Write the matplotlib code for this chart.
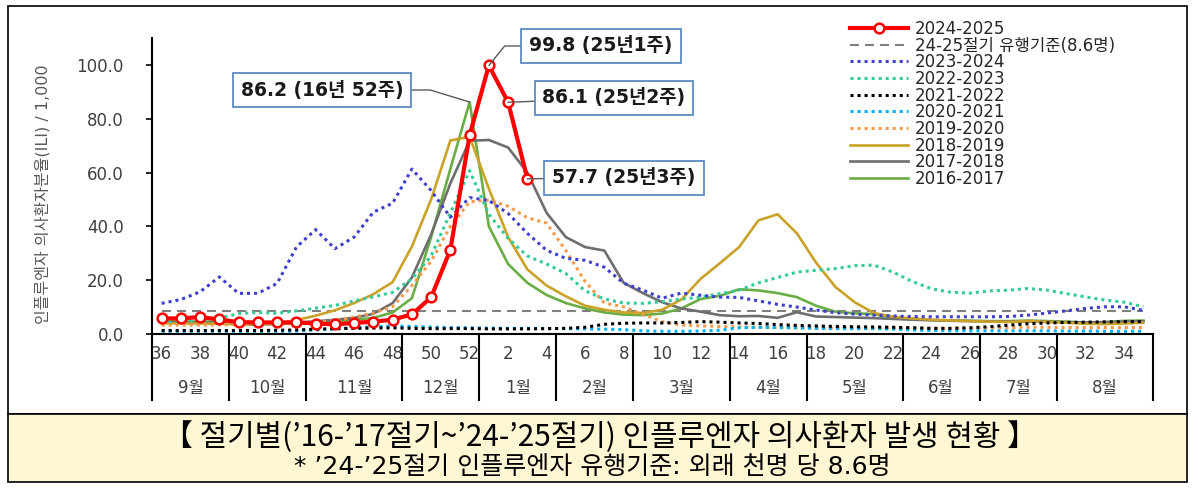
import matplotlib
matplotlib.use("Agg")
import matplotlib.pyplot as plt
import matplotlib.transforms as mtransforms
from matplotlib.patches import Rectangle
import numpy as np

plt.rcParams['font.family'] = ['DejaVu Sans', 'Noto Sans CJK KR']

W, H = 1198, 494

# x axis: epi-weeks 36..52 then 1..35
weeks = list(range(36, 53)) + list(range(1, 36))
months = ["9월", "10월", "11월", "12월", "1월", "2월", "3월", "4월", "5월", "6월", "7월", "8월"]
month_nweeks = [4, 4, 5, 4, 4, 4, 5, 4, 5, 4, 4, 5]

threshold = 8.6

s2425 = [5.8, 5.8, 6.3, 5.4, 4.4, 4.3, 4.3, 4.3, 3.9, 3.6, 4.1, 4.6, 5.3, 7.3, 13.6, 31.3, 73.9,
         99.8, 86.1, 57.7]

s2324 = [11.4, 12.8, 15.7, 21.2, 15.1, 15.1, 18.8, 32.3, 38.8, 31.7, 36.0, 45.3, 48.6, 61.3, 53.3, 43.4, 50.7,
         49.6, 44.8, 37.4, 31.1, 28.1, 27.4, 24.8, 18.9, 16.3, 13.3, 15.2, 14.4, 13.7, 13.6, 12.3, 11.0,
         10.0, 8.9, 7.9, 7.4, 7.0, 6.7, 6.5, 6.4, 6.4, 6.4, 6.4, 6.5, 7.0, 7.8, 8.6, 9.5, 10.1, 10.1, 8.8]

s2223 = [4.5, 4.6, 4.9, 5.8, 7.6, 8.0, 7.7, 8.6, 9.6, 10.6, 12.3, 13.8, 15.5, 20.5, 29.0, 45.0, 60.7,
         44.5, 35.5, 29.0, 26.0, 22.5, 16.0, 13.0, 11.5, 11.4, 12.0, 13.0, 13.7, 15.0, 16.3, 19.0, 21.0,
         23.0, 23.7, 24.3, 25.4, 25.6, 23.0, 19.5, 16.8, 15.5, 15.2, 16.0, 16.3, 16.9, 16.3, 15.0, 13.8,
         12.6, 11.8, 10.1]

s2122 = [1.3, 1.3, 1.3, 1.3, 1.3, 1.3, 1.4, 1.5, 1.8, 2.0, 2.1, 2.2, 2.3, 2.1, 2.0, 2.0, 2.0,
         1.9, 1.9, 1.9, 2.0, 2.1, 2.5, 3.6, 4.0, 4.1, 4.1, 4.3, 4.6, 4.4, 4.1, 3.9, 3.5,
         3.2, 3.0, 2.8, 2.7, 2.6, 2.5, 2.3, 2.1, 2.1, 2.3, 2.7, 3.3, 3.8, 4.1, 4.3, 4.4, 4.5, 4.6, 4.6]

s2021 = [1.0, 1.0, 1.0, 1.0, 1.0, 1.0, 1.0, 1.1, 1.5, 1.9, 2.3, 2.7, 3.0, 2.8, 2.6, 2.4, 2.3,
         2.2, 2.1, 2.1, 2.0, 2.0, 1.9, 1.8, 1.6, 1.2, 1.0, 1.0, 1.1, 1.4, 2.3, 2.5, 2.4,
         2.3, 2.1, 2.0, 2.0, 2.0, 1.8, 1.5, 1.3, 1.2, 1.2, 1.2, 1.2, 1.2, 1.2, 1.1, 1.1, 1.0, 1.0, 1.0]

s1920 = [3.3, 3.3, 3.3, 3.4, 3.5, 3.6, 3.7, 3.9, 4.3, 5.0, 6.3, 7.8, 10.2, 18.0, 27.0, 40.0, 49.1,
         49.8, 47.5, 43.2, 41.2, 31.0, 19.5, 11.5, 10.1, 7.3, 4.6, 3.3, 3.0, 2.8, 2.6, 2.5, 2.4,
         2.3, 2.2, 2.2, 2.2, 2.2, 2.2, 2.2, 2.1, 2.1, 2.2, 2.3, 2.4, 2.5, 2.5, 2.4, 2.4, 2.4, 2.4, 2.4]

s1819 = [4.0, 3.9, 3.9, 3.8, 3.6, 3.7, 4.0, 5.2, 6.8, 8.8, 11.5, 14.8, 19.3, 32.5, 50.0, 71.9, 73.3,
         54.0, 36.0, 24.0, 18.0, 14.0, 10.5, 9.0, 8.0, 7.8, 9.0, 12.8, 20.5, 26.3, 32.3, 42.2, 44.5,
         37.4, 26.5, 17.5, 11.8, 7.8, 6.4, 5.8, 5.3, 5.0, 4.8, 4.6, 4.5, 4.8, 4.5, 4.2, 3.8, 3.7, 3.9, 4.2]

s1718 = [4.3, 4.3, 4.2, 4.2, 3.9, 3.9, 4.0, 4.3, 4.7, 5.3, 6.0, 7.5, 11.5, 21.0, 37.0, 56.0, 71.8,
         72.1, 69.3, 60.0, 45.0, 36.0, 32.3, 31.0, 19.0, 15.2, 11.8, 9.5, 8.3, 7.0, 6.6, 6.7, 6.0,
         8.1, 6.5, 6.3, 6.1, 5.9, 5.6, 5.3, 5.1, 4.9, 4.8, 4.7, 4.6, 4.6, 4.5, 4.4, 4.3, 4.4, 4.6, 4.7]

s1617 = [4.8, 4.7, 4.6, 4.6, 3.4, 3.5, 3.7, 4.0, 4.3, 4.7, 5.2, 6.0, 8.0, 13.3, 36.0, 61.4, 86.2,
         40.0, 26.0, 19.0, 14.5, 11.5, 9.5, 8.0, 7.2, 7.0, 7.6, 9.5, 13.0, 14.2, 16.6, 16.2, 15.2,
         13.7, 10.5, 8.3, 7.7, 7.4, 6.0, 5.5, 5.2, 5.0, 4.9, 4.8, 4.8, 5.0, 4.8, 4.6, 4.2, 4.4, 4.9, 5.0]

x = np.arange(len(weeks))

fig = plt.figure(figsize=(W / 100, H / 100), dpi=100)
fig.patch.set_facecolor("white")

# frames
fig.add_artist(Rectangle((8 / W, 1 - 414 / H), 1179 / W, 408 / H, transform=fig.transFigure,
                         fill=False, ec="black", lw=1.2, zorder=0))
fig.add_artist(Rectangle((8 / W, 1 - 482 / H), 1179 / W, 68 / H, transform=fig.transFigure,
                         fc="#FFF6D3", ec="black", lw=1.2, zorder=0))

ax = fig.add_axes([152 / W, (H - 334) / H, (1153 - 152) / W, (334 - 38) / H])
ax.set_facecolor("none")

dot = (0, (1, 1.3))
dash = (0, (4.3, 2.9))
ax.plot(x, [threshold] * len(x), color="#7F7F7F", lw=1.5, ls=dash, zorder=2)
l1617, = ax.plot(x, s1617, color="#6AAD45", lw=1.9, zorder=3)
l1718, = ax.plot(x, s1718, color="#6E6E6E", lw=1.9, zorder=3)
l1819, = ax.plot(x, s1819, color="#C9A227", lw=1.9, zorder=3)
l1920, = ax.plot(x, s1920, color="#F59A4A", lw=2.2, ls=dot, zorder=3)
l2021, = ax.plot(x, s2021, color="#00B0F0", lw=2.2, ls=dot, zorder=3)
l2122, = ax.plot(x, s2122, color="#000000", lw=2.2, ls=dot, zorder=3)
l2223, = ax.plot(x, s2223, color="#33CC99", lw=2.2, ls=dot, zorder=3)
l2324, = ax.plot(x, s2324, color="#3F3FD0", lw=2.2, ls=dot, zorder=3)
l2425, = ax.plot(x[:len(s2425)], s2425, color="#FF0000", lw=3, marker="o", ms=7,
                 mfc="white", mec="#FF0000", mew=1.8, zorder=5)
lthr, = ax.plot([], [], color="#7F7F7F", lw=1.5, ls=dash)

ax.set_xlim(-0.5, len(x) - 0.5)
ax.set_ylim(0, 110)
ax.set_yticks(np.arange(0, 101, 20))
ax.set_yticklabels([f"{v:.1f}" for v in np.arange(0, 101, 20)])
ax.tick_params(axis="y", length=6 * 0.72, width=1.2, pad=16, labelsize=12, labelcolor="#404040")
ax.set_xticks(x[::2])
ax.set_xticklabels([str(w) for w in weeks[::2]])
ax.tick_params(axis="x", length=0, pad=8, labelsize=12, labelcolor="#404040")
for s in ["top", "right"]:
    ax.spines[s].set_visible(False)
ax.spines["left"].set_linewidth(1.5)
ax.spines["bottom"].set_linewidth(1.5)

# month level of the category axis
trans = mtransforms.blended_transform_factory(ax.transData, ax.transAxes)
bounds = np.concatenate([[0], np.cumsum(month_nweeks)]) - 0.5
low = -66 / 296
for b in bounds:
    ax.plot([b, b], [0, low], transform=trans, color="black", lw=1.5, clip_on=False)
for m, a, b in zip(months, bounds[:-1], bounds[1:]):
    ax.text((a + b) / 2, -54 / 296, m, transform=trans, ha="center", va="center",
            fontsize=12, color="#404040")

fig.text(43 / W, 1 - 194 / H, "인플루엔자 의사환자분율(ILI) / 1,000", rotation=90,
         ha="center", va="center", fontsize=11.5, color="#595959")

# callouts
box = dict(boxstyle="square,pad=0.42", fc="white", ec="#4F81BD", lw=1.2)
lead = dict(arrowstyle="-", color="#595959", lw=1, shrinkA=0, shrinkB=0)
i1 = weeks.index(1)
callouts = [
    ("99.8 (25년1주)", i1, s2425[i1], (601, 46), "angle,angleA=0,angleB=51,rad=0"),
    ("86.1 (25년2주)", i1 + 1, s2425[i1 + 1], (614, 98), "arc3"),
    ("57.7 (25년3주)", i1 + 2, s2425[i1 + 2], (624, 178), "arc3"),
    ("86.2 (16년 52주)", i1 - 1, s1617[i1 - 1], (322, 90), "angle,angleA=0,angleB=-17,rad=0"),
]
for txt, xi, yv, (px, py), cs in callouts:
    ax.annotate(txt, xy=(xi, yv), xycoords="data", xytext=(px / W, 1 - py / H),
                textcoords="figure fraction", ha="center", va="center", fontsize=13.5,
                fontweight="bold", color="#1a1a1a", bbox=box,
                arrowprops=dict(lead, connectionstyle=cs), zorder=6)

handles = [l2425, lthr, l2324, l2223, l2122, l2021, l1920, l1819, l1718, l1617]
labels = ["2024-2025", "24-25절기 유행기준(8.6명)", "2023-2024", "2022-2023", "2021-2022",
          "2020-2021", "2019-2020", "2018-2019", "2017-2018", "2016-2017"]
leg = ax.legend(handles, labels, loc="upper left", bbox_to_anchor=(850 / W, 1 - 20 / H),
                bbox_transform=fig.transFigure, frameon=False, fontsize=12, handlelength=3.5,
                handletextpad=0.4, labelspacing=-0.08, borderpad=0, borderaxespad=0, numpoints=1)
for t in leg.get_texts():
    t.set_color("#262626")

cap_font = ["DejaVu Sans", "Noto Sans CJK KR"]
fig.text(600 / W, 1 - 437 / H, "【 절기별(’16-’17절기~’24-’25절기) 인플루엔자 의사환자 발생 현황 】",
         ha="center", va="center", fontsize=21.5, family=["Noto Sans CJK KR", "DejaVu Sans"])
fig.text(592 / W, 1 - 467 / H, "* ’24-’25절기 인플루엔자 유행기준: 외래 천명 당 8.6명",
         ha="center", va="center", fontsize=18, family=cap_font)

fig.savefig("out.png", dpi=100)
